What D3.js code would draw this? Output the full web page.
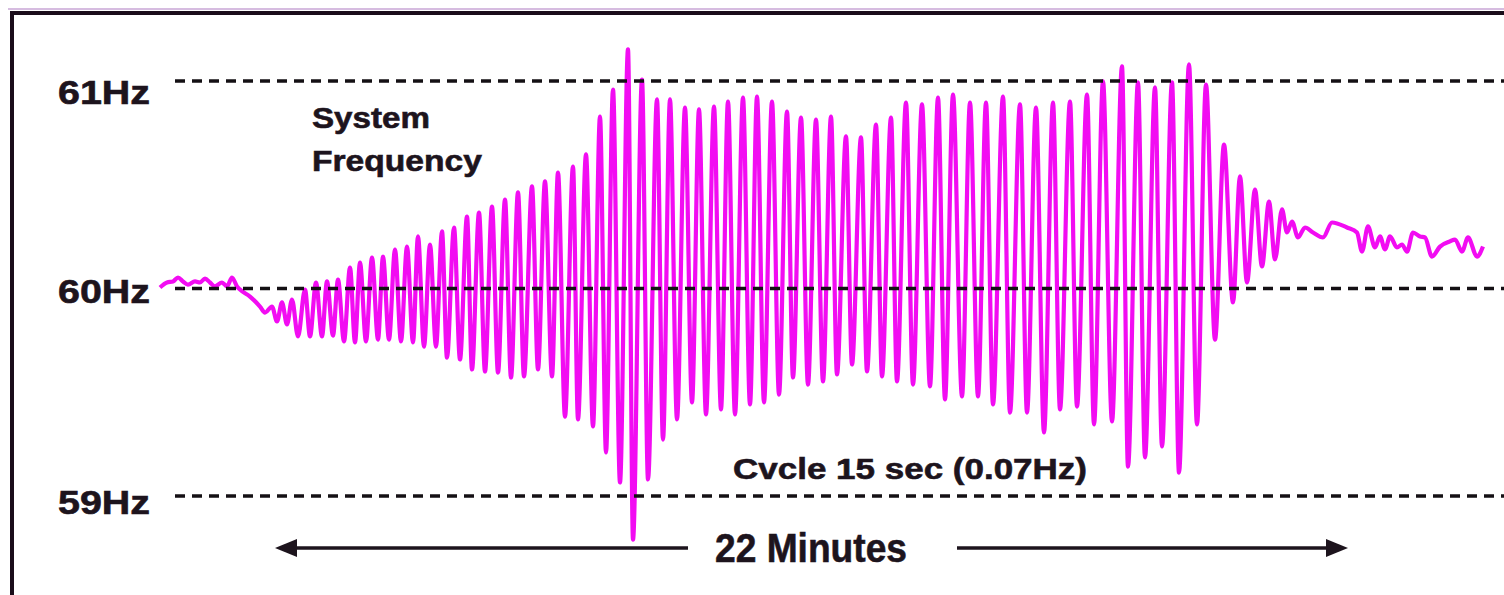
<!DOCTYPE html>
<html>
<head>
<meta charset="utf-8">
<script src="https://cdn.jsdelivr.net/npm/d3@7"></script>
<style>
  html, body { margin: 0; padding: 0; background: #fff; }
  svg { display: block; }
  text { font-family: "Liberation Sans", Arial, Helvetica, sans-serif; font-weight: bold; fill: #1d141d;
         stroke: #1d141d; stroke-width: 0.6px; }
</style>
</head>
<body>
<div id="chart"></div>
<script>
    // frequency levels shown as dashed reference lines
    var levels = [61, 60, 59];
    var levelLabels = ["61Hz", "60Hz", "59Hz"];

    // calm start and slow sag below 60Hz (seconds, Hz)
    var rampT = [0, 7, 13, 18, 23, 28, 35, 40, 45, 50, 55, 62, 67, 72, 77, 80, 90, 100, 105, 112, 117, 122,
        127, 132, 138, 145, 150, 156, 162, 167, 173, 178, 184, 190, 195, 200, 206, 212, 218, 223, 229, 235,
        241, 247, 253, 258, 264, 270, 276, 282, 287];
    var rampHz = [60.005, 60.029, 60.034, 60.053, 60.034, 60.019, 60.034, 60.029, 60.048, 60.029, 60.010,
        60.029, 60.010, 60.053, 60.010, 59.995, 59.961, 59.913, 59.884, 59.913, 59.841, 59.933,
        59.827, 59.947, 59.769, 59.995, 59.769, 60.029, 59.769, 60.034, 59.773, 60.043, 59.745, 60.101,
        59.740, 60.125, 59.745, 60.149, 59.754, 60.154, 59.754, 60.188, 59.745, 60.202, 59.740, 60.251,
        59.720, 60.212, 59.720, 60.275, 59.667];

    // large swings, 15 s cycle (peaks and troughs)
    var swingT = [294, 300, 307, 312, 319, 325, 332, 338, 345, 351, 358, 364, 372, 378, 385, 392, 398, 405,
        413, 418, 426, 433, 440, 446, 453, 460, 468, 473, 482, 488, 497, 503, 510, 517, 525, 532, 539, 546,
        554, 561, 568, 575, 583, 590, 597, 604, 612, 619, 627, 633, 641, 648, 656, 663, 671, 677, 686, 692,
        701, 707, 716, 722, 731, 737, 746, 753, 762, 770, 778, 785, 793, 802, 810, 818, 826, 833, 843, 850,
        860, 867, 876, 884, 893, 900, 910, 917, 927, 934, 943, 952, 962, 968, 978, 985, 995, 1002, 1012,
        1019, 1029, 1037, 1046, 1055, 1064, 1073, 1080, 1087, 1095, 1102, 1109, 1115, 1122];
    var swingHz = [60.294, 59.658, 60.347, 59.610, 60.366, 59.600, 60.395, 59.595, 60.429, 59.571, 60.463,
        59.576, 60.492, 59.610, 60.516, 59.576, 60.559, 59.383, 60.588, 59.369, 60.646, 59.335, 60.829,
        59.210, 60.959, 59.065, 61.152, 58.790, 61.007, 59.080, 60.911, 59.272, 60.911, 59.369, 60.872,
        59.451, 60.863, 59.393, 60.877, 59.417, 60.901, 59.393, 60.920, 59.441, 60.925, 59.451, 60.901,
        59.489, 60.853, 59.571, 60.824, 59.537, 60.814, 59.552, 60.829, 59.586, 60.733, 59.634, 60.728,
        59.600, 60.790, 59.576, 60.824, 59.552, 60.896, 59.537, 60.887, 59.528, 60.920, 59.465, 60.935,
        59.480, 60.896, 59.480, 60.896, 59.441, 60.925, 59.402, 60.887, 59.402, 60.872, 59.306, 60.896,
        59.417, 60.901, 59.431, 60.935, 59.345, 60.998, 59.359, 61.070, 59.142, 60.993, 59.186, 60.969,
        59.239, 60.993, 59.113, 61.080, 59.345, 60.983, 59.754, 60.694, 59.933, 60.540, 60.029, 60.477,
        60.106, 60.419, 60.140, 60.381];

    // settling above 60Hz
    var settleT = [1127, 1132, 1138, 1145, 1153, 1163, 1172, 1187, 1197, 1202, 1208, 1215, 1220, 1225, 1230,
        1237, 1242, 1247, 1253, 1260, 1265, 1272, 1280, 1290, 1295, 1302, 1308, 1317, 1323];
    var settleHz = [60.270, 60.323, 60.246, 60.294, 60.270, 60.246, 60.318, 60.294, 60.270, 60.178, 60.299,
        60.198, 60.251, 60.188, 60.251, 60.198, 60.212, 60.178, 60.270, 60.251, 60.246, 60.154, 60.202,
        60.227, 60.236, 60.178, 60.246, 60.154, 60.202];

    // "22 Minutes" span (seconds) and the gap left for its label
    var spanSec = [115, 1188];
    var gapSec = [528, 797];

    var W = 1504, H = 595;

    var svg = d3.select("#chart").append("svg")
        .attr("width", W)
        .attr("height", H);

    var x = d3.scaleLinear().domain([0, 1323]).range([160, 1483]);
    var y = d3.scaleLinear().domain([59, 61]).range([496, 81]);

    var series = [];
    [[rampT, rampHz], [swingT, swingHz], [settleT, settleHz]].forEach(function (p) {
        p[0].forEach(function (t, i) {
            series.push({ t: t, hz: p[1][i] });
        });
    });

    // frame (top and left only)
    svg.append("line")
        .attr("x1", 8).attr("x2", W).attr("y1", 9).attr("y2", 9)
        .attr("stroke", "#c9a6d6").attr("stroke-width", 1.5);
    svg.append("path")
        .attr("d", "M12," + H + "V13H" + W)
        .attr("fill", "none")
        .attr("stroke", "#1a0d1a")
        .attr("stroke-width", 4);

    // signal
    var line = d3.line()
        .x(function (d) { return x(d.t); })
        .y(function (d) { return y(d.hz); })
        .curve(d3.curveMonotoneX);

    svg.append("path")
        .datum(series)
        .attr("d", line)
        .attr("fill", "none")
        .attr("stroke", "#f20cf2")
        .attr("stroke-width", 4.2)
        .attr("stroke-linejoin", "round");

    // dashed level lines on top of the signal
    svg.append("g").selectAll("line")
        .data(levels)
        .enter()
        .append("line")
        .attr("x1", 175)
        .attr("x2", W)
        .attr("y1", function (d) { return y(d); })
        .attr("y2", function (d) { return y(d); })
        .attr("stroke", "#141014")
        .attr("stroke-width", 3.5)
        .attr("stroke-dasharray", "10,7");

    // level labels
    var nudge = { 61: 23, 60: 14, 59: 18 };
    svg.append("g").selectAll("text")
        .data(levels)
        .enter()
        .append("text")
        .attr("x", 150)
        .attr("y", function (d) { return y(d) + nudge[d]; })
        .attr("text-anchor", "end")
        .attr("font-size", 33)
        .attr("textLength", 92)
        .attr("lengthAdjust", "spacingAndGlyphs")
        .text(function (d, i) { return levelLabels[i]; });

    var label = function (txt, px, py, size, len) {
        svg.append("text")
            .attr("x", px).attr("y", py)
            .attr("font-size", size)
            .attr("textLength", len)
            .attr("lengthAdjust", "spacingAndGlyphs")
            .text(txt);
    };

    label("System", 312, 128, 29, 118);
    label("Frequency", 312, 171, 29, 170);
    label("Cvcle 15 sec (0.07Hz)", 733, 479, 29, 354);
    label("22 Minutes", 715, 562, 40, 192);

    // duration arrows
    var ay = 548;
    var arrows = [[gapSec[0], spanSec[0]], [gapSec[1], spanSec[1]]];
    arrows.forEach(function (a) {
        var from = x(a[0]), to = x(a[1]);
        var dir = to > from ? 1 : -1;
        svg.append("line")
            .attr("x1", from).attr("x2", to - dir * 16)
            .attr("y1", ay).attr("y2", ay)
            .attr("stroke", "#1d141d")
            .attr("stroke-width", 3.5);
        svg.append("path")
            .attr("d", "M" + to + "," + ay + "L" + (to - dir * 22) + "," + (ay - 9) +
                "L" + (to - dir * 22) + "," + (ay + 9) + "Z")
            .attr("fill", "#1d141d");
    });
</script>
</body>
</html>
